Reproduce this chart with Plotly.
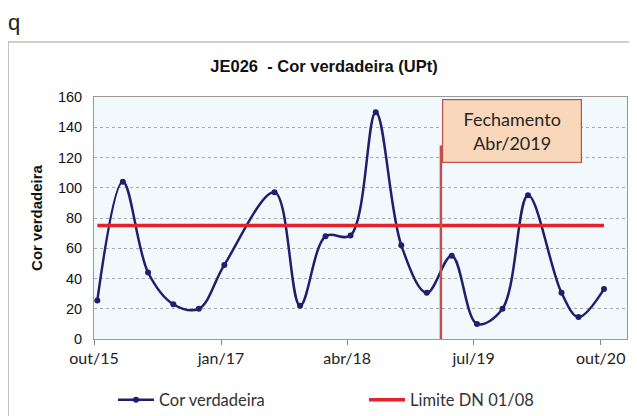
import plotly.graph_objects as go

# ---- data ----
dates = ['2015-10-13', '2016-01-13', '2016-04-13', '2016-07-13', '2016-10-13',
         '2017-01-13', '2017-07-13', '2017-10-13', '2018-01-13', '2018-04-13',
         '2018-07-13', '2018-10-13', '2019-01-13', '2019-04-13', '2019-07-13',
         '2019-10-13', '2020-01-13', '2020-05-13', '2020-07-13', '2020-10-13']
cor_verdadeira = [25.5, 104, 44, 23, 20, 49, 97, 22, 68, 68.5,
                  150, 62, 30.5, 55, 10, 20, 95, 30.5, 14.5, 33]
limite_dates = ['2015-10-13', '2020-10-13']
limite_values = [75, 75]
tick_vals = ['2015-10-01', '2017-01-01', '2018-04-01', '2019-07-01', '2020-10-01']
tick_text = ['out/15', 'jan/17', 'abr/18', 'jul/19', 'out/20']
fechamento_date = '2019-03-05'
fechamento_top = 128
fechamento_text = 'Fechamento<br>Abr/2019'

NAVY = '#1f1f6e'
RED = '#e8202a'
FONT_C = 'Lato, Calibri, sans-serif'
FONT_A = 'Arial, Liberation Sans, sans-serif'

# page body has an 8px margin; figure is sized so that it fills the window
W, H = 629, 408
L, T = 86, 89          # plot area left / top (figure px)
PW, PH = 533, 242      # plot area size


def px(xp):  # figure px -> paper x
    return (xp - L) / PW


def py(yp):  # figure px -> paper y
    return (T + PH - yp) / PH


fig = go.Figure()
fig.add_trace(go.Scatter(
    x=dates, y=cor_verdadeira, name='Cor verdadeira', mode='lines+markers',
    line=dict(color=NAVY, width=2.5, shape='spline', smoothing=1.0),
    marker=dict(color=NAVY, size=6)))
fig.add_trace(go.Scatter(
    x=limite_dates, y=limite_values, name='Limite DN 01/08', mode='lines',
    line=dict(color=RED, width=3.5)))

# vertical closing line
fig.add_shape(type='line', xref='x', yref='y', x0=fechamento_date, x1=fechamento_date,
              y0=0, y1=fechamento_top, line=dict(color='#c0504d', width=2.5))

# text box
fig.add_annotation(xref='paper', yref='paper', x=px(434), y=py(91),
                   xanchor='left', yanchor='top', text=fechamento_text, showarrow=False,
                   font=dict(family=FONT_C, size=18, color='#262626'),
                   bgcolor='#f9d7bb', bordercolor='#c0504d', borderwidth=1.2,
                   width=136, height=60, align='center')

# outer chart frame
fig.add_shape(type='rect', xref='paper', yref='paper',
              x0=px(0), x1=1.2, y0=-0.6, y1=py(34),
              line=dict(color='#a0a0a0', width=1.2), fillcolor='rgba(0,0,0,0)', layer='below')

# 'q' label
fig.add_annotation(xref='paper', yref='paper', x=px(-2), y=py(14),
                   xanchor='left', yanchor='middle', text='q', showarrow=False,
                   font=dict(family=FONT_A, size=22, color='#222'))

fig.update_layout(
    width=W, height=H,
    margin=dict(l=L, r=W - L - PW, t=T, b=H - T - PH, autoexpand=False),
    paper_bgcolor='white', plot_bgcolor='#f2f9fd',
    title=dict(text='<b>JE026  - Cor verdadeira (UPt)</b>', x=316 / W, xanchor='center',
               y=1 - 58 / H, yanchor='middle',
               font=dict(family=FONT_A, size=16.5, color='#111')),
    showlegend=True,
    legend=dict(orientation='h', x=px(105), y=py(392), xanchor='left', yanchor='middle',
                entrywidth=200, entrywidthmode='pixels', itemwidth=36,
                font=dict(family=FONT_C, size=16.5, color='#333'), bgcolor='rgba(0,0,0,0)'),
    xaxis=dict(type='date', range=['2015-10-01', '2021-01-04'],
               tickvals=tick_vals, ticktext=tick_text,
               ticks='outside', ticklen=5, tickcolor='#888', showgrid=False,
               showline=True, linecolor='#999', linewidth=1, mirror=True,
               ticklabelstandoff=0,
               tickfont=dict(family=FONT_C, size=16, color='#222'), zeroline=False),
    yaxis=dict(range=[0, 160], dtick=20, showgrid=True, gridcolor='#a8a8a8',
               griddash='dot', gridwidth=1,
               showline=True, linecolor='#999', linewidth=1, mirror=True,
               ticks='', ticklabelstandoff=8,
               tickfont=dict(family=FONT_A, size=14.5, color='#111'),
               title=dict(text='<b>Cor verdadeira</b>', standoff=11,
                          font=dict(family=FONT_A, size=15, color='#111')),
               zeroline=False),
)

fig.write_html('out.html')
